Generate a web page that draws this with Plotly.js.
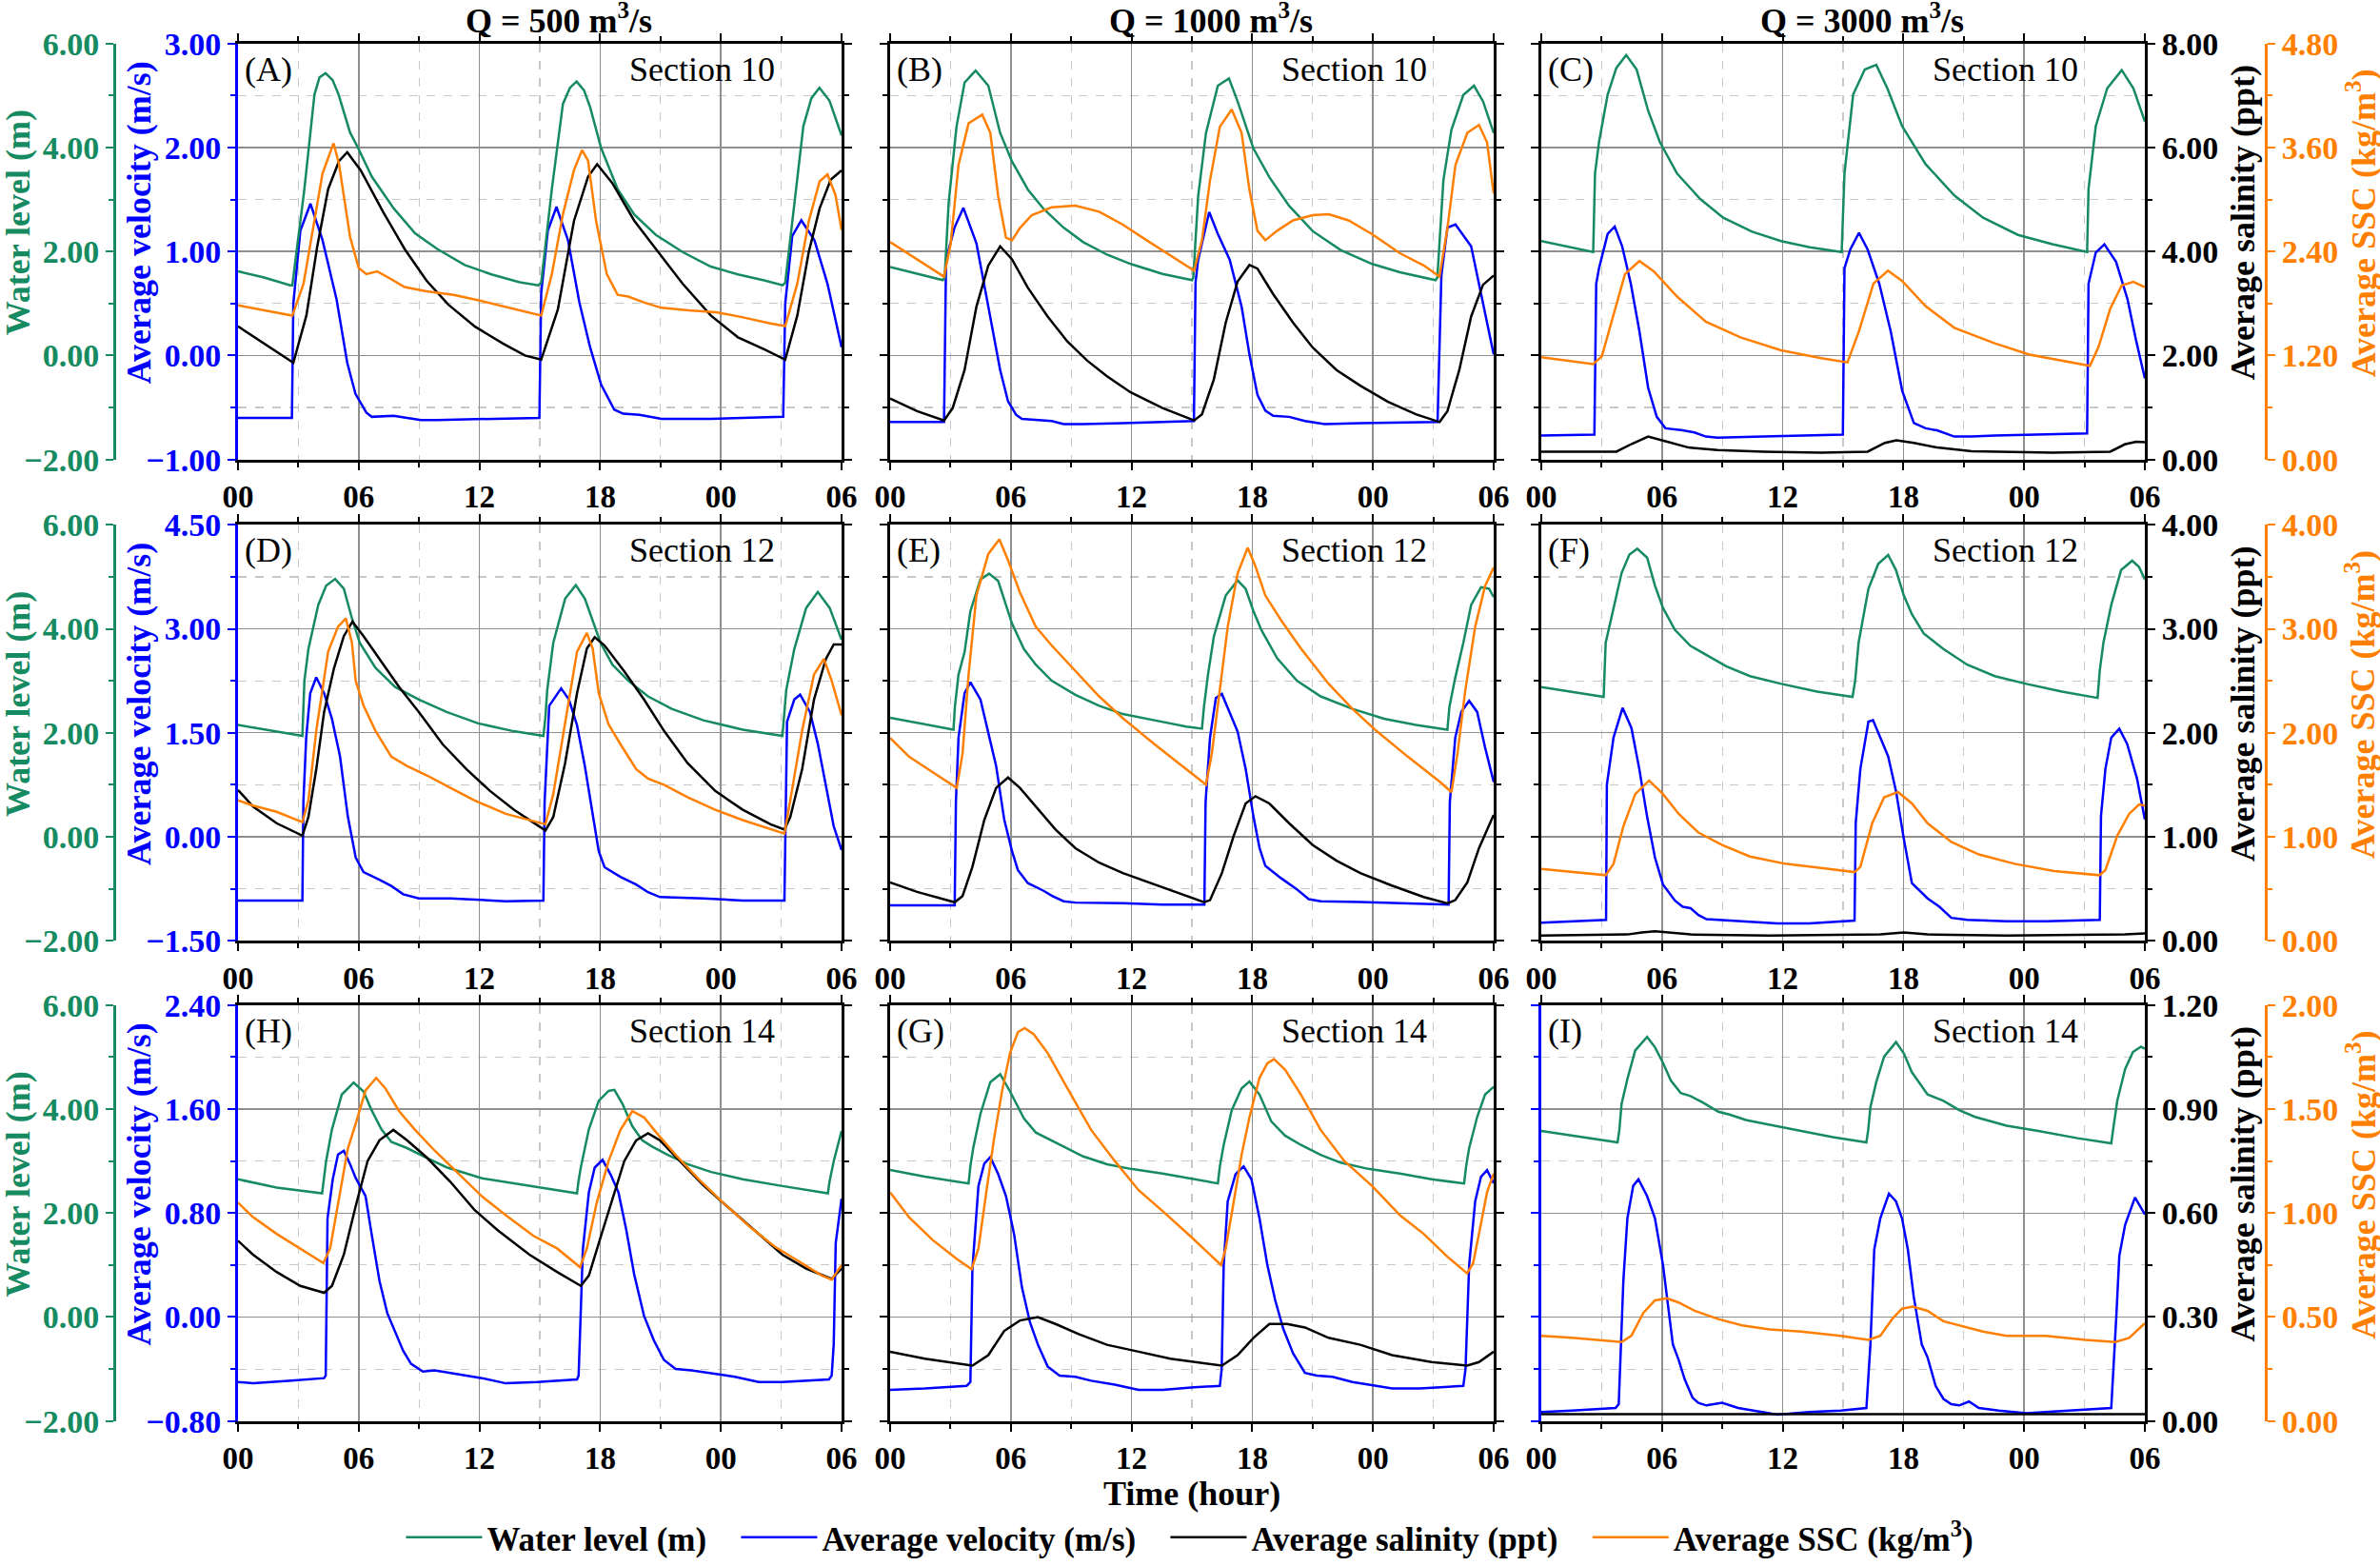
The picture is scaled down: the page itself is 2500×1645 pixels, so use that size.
<!DOCTYPE html>
<html>
<head>
<meta charset="utf-8">
<script src="https://cdn.plot.ly/plotly-3.0.1.min.js"></script>
<style>
  body { margin: 0; background: #fff; }
</style>
</head>
<body>
<div id="chart" style="width:2500px;height:1645px"></div>
<script>
// ---- labels and ranges ----
const hourTicks = [0, 6, 12, 18, 24, 30];
const hourText = ["00", "06", "12", "18", "00", "06"];
const flowTitles = ["Q = 500 m<sup>3</sup>/s", "Q = 1000 m<sup>3</sup>/s", "Q = 3000 m<sup>3</sup>/s"];
const panelTags = ["(A)", "(B)", "(C)", "(D)", "(E)", "(F)", "(H)", "(G)", "(I)"];
const sectionNames = ["Section 10", "Section 12", "Section 14"];
const seriesNames = ["Water level (m)", "Average velocity (m/s)", "Average salinity (ppt)", "Average SSC (kg/m<sup>3</sup>)"];

const levelRange = [-2, 6];
const levelStep = 2;
const velocityRanges = [[-1, 3], [-1.5, 4.5], [-0.8, 2.4]];
const velocitySteps = [1, 1.5, 0.8];
const salinityRanges = [[0, 8], [0, 4], [0, 1.2]];
const salinitySteps = [2, 1, 0.3];
const sscRanges = [[0, 4.8], [0, 4], [0, 2]];
const sscSteps = [1.2, 1, 0.5];

// ---- series: [hour, value] ----
// (A) Q=500, section 10
const wlA = [[0,1.62],[1.3,1.5],[2.6,1.35],[2.7,1.35],[3.3,3.2],[3.8,5.02],[4.05,5.35],[4.35,5.43],[4.7,5.3],[5.0,5.02],[5.57,4.29],[5.97,3.99],[6.65,3.44],[7.74,2.83],[8.8,2.35],[9.9,2.05],[11.27,1.74],[12.6,1.56],[14,1.41],[14.93,1.35],[15.07,1.4],[15.6,3.2],[16.15,4.84],[16.5,5.15],[16.83,5.27],[17.2,5.1],[17.5,4.78],[18.05,3.99],[18.87,3.2],[19.7,2.71],[20.77,2.32],[22.1,1.99],[23.5,1.71],[24.85,1.56],[26.2,1.44],[27.07,1.35],[27.2,1.4],[27.55,2.6],[28.1,4.41],[28.5,4.95],[28.9,5.15],[29.4,4.9],[30,4.23]];
const velA = [[0,-0.6],[2.68,-0.6],[2.75,0.5],[3.1,1.2],[3.6,1.46],[4.2,1.11],[4.9,0.54],[5.43,-0.07],[5.84,-0.37],[6.38,-0.55],[6.65,-0.59],[7.74,-0.58],[8.4,-0.6],[9.1,-0.62],[9.9,-0.62],[12.6,-0.61],[14.98,-0.6],[15.07,0.6],[15.4,1.2],[15.83,1.43],[16.4,1.11],[16.97,0.51],[17.5,0.08],[18.05,-0.28],[18.7,-0.52],[19.14,-0.56],[19.96,-0.57],[21.05,-0.61],[23.5,-0.61],[27.1,-0.59],[27.2,0.5],[27.55,1.15],[28.0,1.3],[28.65,1.11],[29.3,0.69],[30,0.08]];
const salA = [[0,2.56],[1.4,2.2],[2.75,1.86],[3.4,2.77],[3.94,4.1],[4.48,5.2],[5.02,5.74],[5.43,5.91],[6.1,5.56],[7.2,4.77],[8.28,4.05],[9.37,3.44],[10.45,2.98],[11.8,2.55],[13.17,2.23],[14.26,2.0],[15.07,1.92],[15.9,2.89],[16.7,4.59],[17.4,5.44],[17.85,5.68],[18.6,5.32],[19.7,4.59],[20.77,4.05],[22.1,3.38],[23.5,2.77],[24.85,2.35],[26.2,2.11],[27.2,1.92],[27.8,2.77],[28.37,3.99],[28.91,4.83],[29.46,5.38],[30,5.56]];
const sscA = [[0,1.78],[1.4,1.72],[2.7,1.66],[3.26,2.03],[3.8,2.75],[4.2,3.3],[4.75,3.65],[5.02,3.41],[5.57,2.57],[6.0,2.21],[6.38,2.14],[6.92,2.17],[7.47,2.1],[8.28,1.99],[9.37,1.94],[10.72,1.9],[12.08,1.83],[13.71,1.74],[15.07,1.66],[15.6,2.14],[16.15,2.83],[16.7,3.34],[17.1,3.57],[17.4,3.45],[17.8,2.75],[18.33,2.14],[18.87,1.9],[19.4,1.88],[20.2,1.81],[21.05,1.75],[22.4,1.72],[23.76,1.7],[25.1,1.64],[26.46,1.57],[27.2,1.54],[27.8,2.03],[28.37,2.75],[28.91,3.21],[29.3,3.29],[29.7,3.05],[30,2.65]];

// (B) Q=1000, section 10
const wlB = [[0,1.7],[2.62,1.45],[2.71,1.5],[2.91,2.94],[3.3,4.4],[3.7,5.25],[4.25,5.48],[4.88,5.19],[5.47,4.28],[6.06,3.73],[6.85,3.19],[7.63,2.82],[8.62,2.46],[9.6,2.18],[10.78,1.94],[11.96,1.76],[13.54,1.57],[15.01,1.45],[15.07,1.5],[15.31,3.06],[15.7,4.28],[16.29,5.19],[16.84,5.33],[17.27,4.89],[18.06,3.98],[18.85,3.43],[19.83,2.88],[21.01,2.39],[22.39,2.03],[23.96,1.76],[25.34,1.6],[27.11,1.45],[27.2,1.5],[27.5,3.37],[27.9,4.34],[28.49,5.01],[29.02,5.19],[29.47,4.89],[30,4.28]];
const velB = [[0,-0.64],[2.68,-0.64],[2.78,0.92],[3.2,1.23],[3.64,1.42],[4.29,1.08],[4.88,0.47],[5.47,-0.14],[5.86,-0.44],[6.26,-0.57],[6.55,-0.61],[7.24,-0.62],[8.03,-0.63],[8.62,-0.66],[9.6,-0.66],[11.57,-0.65],[13.54,-0.64],[15.1,-0.63],[15.18,0.7],[15.31,0.92],[15.86,1.38],[16.29,1.17],[16.88,0.92],[17.47,0.47],[17.86,0.01],[18.26,-0.38],[18.65,-0.53],[19.04,-0.58],[19.83,-0.59],[20.62,-0.63],[21.6,-0.66],[23.37,-0.65],[27.21,-0.64],[27.4,0.77],[27.7,1.23],[28.1,1.26],[28.88,1.05],[29.27,0.68],[29.67,0.32],[30,0.01]];
const salB = [[0,1.17],[1.34,0.93],[2.68,0.75],[3.11,0.99],[3.7,1.72],[4.29,2.94],[4.88,3.73],[5.47,4.1],[6.06,3.85],[6.85,3.3],[7.83,2.75],[8.81,2.27],[9.8,1.9],[10.78,1.6],[11.96,1.29],[13.54,0.99],[15.11,0.75],[15.5,0.87],[16.09,1.54],[16.68,2.63],[17.27,3.42],[17.86,3.74],[18.26,3.67],[19.04,3.18],[20.03,2.63],[21.01,2.15],[22.19,1.72],[23.37,1.42],[24.75,1.11],[26.13,0.87],[27.31,0.72],[27.7,0.93],[28.29,1.72],[28.88,2.75],[29.47,3.36],[30,3.54]];
const sscB = [[0,2.51],[1.34,2.31],[2.68,2.11],[3.01,2.49],[3.4,3.4],[3.9,3.88],[4.58,3.98],[4.98,3.77],[5.37,3.04],[5.76,2.56],[6.06,2.53],[6.45,2.67],[7.04,2.82],[8.03,2.91],[9.21,2.93],[10.39,2.86],[11.57,2.71],[12.75,2.53],[13.93,2.35],[15.11,2.18],[15.5,2.53],[15.9,3.22],[16.39,3.84],[16.98,4.04],[17.47,3.77],[17.86,3.11],[18.26,2.64],[18.65,2.53],[19.24,2.64],[20.03,2.76],[21.01,2.82],[21.8,2.83],[22.78,2.76],[23.96,2.6],[25.34,2.38],[26.52,2.24],[27.31,2.11],[27.7,2.67],[28.1,3.4],[28.69,3.77],[29.27,3.86],[29.67,3.66],[30,3.07]];

// (C) Q=3000, section 10
const wlC = [[0,2.2],[2.58,1.99],[2.67,3.5],[2.87,4.11],[3.3,5.02],[3.73,5.53],[4.22,5.78],[4.74,5.5],[5.31,4.71],[5.89,4.11],[6.75,3.5],[7.9,3.01],[9.04,2.65],[10.48,2.38],[11.92,2.2],[13.35,2.08],[14.93,1.99],[15.07,3.5],[15.5,5.02],[16.08,5.5],[16.65,5.59],[17.2,5.14],[17.94,4.41],[19.1,3.68],[20.53,3.08],[21.96,2.65],[23.69,2.32],[25.4,2.14],[27.13,1.99],[27.2,3.2],[27.56,4.41],[28.13,5.14],[28.85,5.49],[29.43,5.14],[30,4.5]];
const velC = [[0,-0.77],[2.64,-0.76],[2.73,0.69],[2.87,0.84],[3.3,1.17],[3.65,1.24],[4.02,1.05],[4.45,0.69],[4.88,0.23],[5.31,-0.31],[5.74,-0.59],[6.17,-0.7],[7.03,-0.72],[7.61,-0.74],[8.18,-0.78],[8.76,-0.79],[11.05,-0.78],[13.92,-0.77],[14.99,-0.76],[15.07,0.84],[15.36,1.02],[15.79,1.18],[16.22,1.02],[16.8,0.69],[17.37,0.23],[17.94,-0.34],[18.52,-0.65],[19.1,-0.7],[19.67,-0.72],[20.53,-0.78],[21.39,-0.78],[22.54,-0.77],[27.13,-0.75],[27.2,0.69],[27.56,0.99],[27.99,1.07],[28.57,0.9],[29.14,0.54],[29.57,0.14],[30,-0.22]];
const salC = [[0,0.15],[3.73,0.15],[4.5,0.3],[5.31,0.44],[6.17,0.35],[7.32,0.23],[8.76,0.18],[11.05,0.15],[13.92,0.13],[16.22,0.15],[17.08,0.32],[17.65,0.37],[18.52,0.32],[19.67,0.23],[21.39,0.16],[25.4,0.13],[28.28,0.15],[29,0.29],[29.57,0.34],[30,0.33]];
const sscC = [[0,1.18],[2.58,1.1],[3.01,1.19],[3.59,1.66],[4.16,2.14],[4.88,2.29],[5.6,2.17],[6.75,1.88],[8.18,1.59],[9.9,1.41],[11.92,1.26],[13.92,1.17],[15.22,1.12],[15.79,1.48],[16.51,2.03],[17.23,2.18],[17.94,2.06],[19.1,1.77],[20.53,1.52],[22.54,1.34],[24.26,1.21],[27.27,1.08],[27.7,1.3],[28.28,1.74],[28.85,2.01],[29.43,2.05],[30,1.99]];

// (D) Q=500, section 12
const wlD = [[0,2.15],[3.2,1.94],[3.3,3.0],[3.5,3.61],[3.99,4.46],[4.38,4.83],[4.83,4.96],[5.26,4.77],[5.65,4.22],[6.05,3.73],[6.83,3.25],[7.81,2.88],[8.99,2.64],[10.37,2.4],[11.94,2.18],[13.7,2.03],[15.18,1.94],[15.28,2.3],[15.37,2.82],[15.67,3.73],[16.26,4.58],[16.79,4.84],[17.24,4.58],[17.63,4.16],[18.02,3.73],[18.61,3.31],[19.4,3.0],[20.38,2.7],[21.56,2.46],[23.13,2.24],[25.09,2.06],[27.06,1.94],[27.15,2.3],[27.25,2.82],[27.65,3.61],[28.24,4.4],[28.82,4.71],[29.41,4.4],[30,3.79]];
const velD = [[0,-0.92],[3.2,-0.92],[3.25,0.5],[3.39,1.43],[3.59,2.07],[3.89,2.3],[4.28,2.07],[4.67,1.7],[5.07,1.16],[5.46,0.29],[5.85,-0.3],[6.24,-0.51],[7.03,-0.62],[7.62,-0.71],[8.21,-0.83],[8.99,-0.89],[10.56,-0.89],[13.31,-0.93],[15.18,-0.92],[15.24,0.5],[15.47,1.89],[16.06,2.14],[16.45,1.98],[16.85,1.61],[17.24,1.02],[17.63,0.29],[17.93,-0.21],[18.22,-0.44],[19.01,-0.58],[19.79,-0.69],[20.38,-0.8],[20.97,-0.87],[23.13,-0.89],[25.09,-0.92],[27.16,-0.92],[27.29,1.66],[27.65,1.98],[27.94,2.05],[28.43,1.8],[28.82,1.34],[29.22,0.75],[29.61,0.15],[30,-0.19]];
const salD = [[0,1.45],[0.75,1.29],[1.92,1.13],[3.2,1.01],[3.5,1.19],[3.89,1.65],[4.28,2.2],[4.77,2.62],[5.26,2.93],[5.69,3.07],[6.24,2.93],[7.03,2.71],[8.01,2.44],[8.99,2.2],[10.17,1.89],[11.35,1.65],[12.53,1.44],[13.71,1.26],[15.28,1.06],[15.67,1.19],[16.26,1.71],[16.85,2.38],[17.34,2.81],[17.73,2.92],[18.22,2.84],[19.2,2.59],[20.18,2.32],[21.17,2.02],[22.34,1.71],[23.72,1.44],[25.09,1.26],[26.47,1.12],[27.16,1.07],[27.45,1.19],[28.04,1.65],[28.63,2.32],[29.22,2.71],[29.61,2.85],[30,2.85]];
const sscD = [[0,1.35],[0.75,1.3],[1.92,1.24],[3.2,1.14],[3.5,1.35],[3.89,2.02],[4.48,2.78],[4.97,3.02],[5.36,3.1],[5.66,2.87],[5.85,2.5],[6.24,2.26],[6.83,2.02],[7.62,1.77],[8.4,1.68],[9.39,1.59],[10.56,1.47],[11.74,1.35],[13.31,1.22],[15.28,1.12],[15.67,1.41],[16.26,2.11],[16.85,2.78],[17.34,2.96],[17.63,2.81],[17.93,2.38],[18.42,2.08],[19.01,1.89],[19.79,1.65],[20.38,1.56],[21.17,1.5],[22.34,1.38],[23.72,1.26],[25.09,1.16],[26.47,1.07],[27.16,1.03],[27.45,1.35],[28.04,2.02],[28.63,2.56],[29.12,2.71],[29.51,2.5],[30,2.17]];

// (E) Q=1000, section 12
const wlE = [[0,2.29],[3.15,2.06],[3.22,2.5],[3.4,3.12],[3.7,3.55],[3.99,4.34],[4.49,4.95],[4.92,5.06],[5.37,4.92],[5.67,4.58],[6.06,4.1],[6.65,3.61],[7.24,3.31],[8.03,3.0],[9.21,2.73],[10.39,2.52],[11.57,2.36],[13.14,2.24],[14.72,2.12],[15.5,2.08],[15.6,2.5],[15.8,3.12],[16.09,3.85],[16.68,4.64],[17.27,4.93],[17.67,4.77],[18.06,4.34],[18.45,3.98],[19.24,3.43],[20.22,3.0],[21.4,2.7],[22.98,2.46],[24.55,2.27],[26.13,2.15],[27.7,2.06],[27.8,2.5],[28.09,3.06],[28.49,3.73],[28.88,4.46],[29.37,4.8],[29.77,4.77],[30,4.61]];
const velE = [[0,-0.99],[3.21,-0.99],[3.27,0.5],[3.4,1.43],[3.7,2.07],[3.99,2.23],[4.49,1.98],[4.88,1.52],[5.27,1.02],[5.67,0.25],[6.06,-0.21],[6.35,-0.48],[6.85,-0.67],[7.63,-0.78],[8.03,-0.85],[8.62,-0.93],[9.21,-0.95],[11.57,-0.96],[13.54,-0.98],[15.62,-0.98],[15.68,0.5],[15.9,1.43],[16.19,2.0],[16.49,2.06],[16.88,1.8],[17.27,1.52],[17.67,0.98],[18.06,0.29],[18.36,-0.16],[18.65,-0.42],[19.44,-0.6],[20.22,-0.76],[20.81,-0.9],[21.4,-0.93],[23.37,-0.94],[25.34,-0.96],[27.76,-0.98],[27.82,0.5],[28.09,1.43],[28.39,1.8],[28.78,1.96],[29.18,1.8],[29.57,1.29],[30,0.79]];
const salE = [[0,0.56],[1.34,0.47],[3.21,0.37],[3.6,0.43],[4.09,0.71],[4.68,1.16],[5.27,1.47],[5.86,1.57],[6.45,1.47],[7.24,1.29],[8.22,1.07],[9.21,0.89],[10.39,0.75],[11.57,0.65],[13.14,0.54],[14.72,0.43],[15.6,0.37],[15.9,0.39],[16.49,0.65],[17.08,1.01],[17.67,1.32],[18.16,1.39],[18.85,1.32],[19.83,1.13],[21.01,0.92],[22.19,0.77],[23.37,0.65],[24.94,0.53],[26.52,0.42],[27.7,0.36],[28.09,0.39],[28.69,0.56],[29.27,0.89],[30,1.21]];
const sscE = [[0,1.95],[0.94,1.77],[2.12,1.62],[3.31,1.47],[3.6,1.8],[3.9,2.56],[4.29,3.32],[4.88,3.72],[5.43,3.86],[5.86,3.66],[6.45,3.35],[7.24,3.02],[8.03,2.84],[9.21,2.59],[10.39,2.35],[11.57,2.14],[13.14,1.89],[14.72,1.65],[15.7,1.5],[15.99,1.8],[16.39,2.41],[16.78,3.02],[17.27,3.53],[17.77,3.78],[18.16,3.6],[18.65,3.32],[19.44,3.08],[20.42,2.81],[21.8,2.47],[22.98,2.23],[24.16,2.02],[25.73,1.77],[27.31,1.53],[27.9,1.43],[28.2,1.8],[28.59,2.41],[29.08,3.02],[29.57,3.41],[30,3.59]];

// (F) Q=3000, section 12
const wlF = [[0,2.88],[3.1,2.69],[3.2,3.73],[3.5,4.22],[3.99,5.07],[4.38,5.43],[4.77,5.54],[5.26,5.37],[5.65,4.83],[6.05,4.4],[6.64,3.98],[7.42,3.67],[8.21,3.49],[9.19,3.28],[10.37,3.09],[11.94,2.94],[13.71,2.79],[15.47,2.69],[15.6,3.0],[15.77,3.73],[16.26,4.77],[16.75,5.25],[17.24,5.42],[17.63,5.13],[18.02,4.64],[18.42,4.28],[19.01,3.91],[19.99,3.61],[21.17,3.31],[22.54,3.09],[24.11,2.94],[25.88,2.79],[27.65,2.67],[27.76,3.2],[27.94,3.73],[28.33,4.46],[28.82,5.13],[29.37,5.31],[29.71,5.19],[30,4.95]];
const velF = [[0,-1.24],[3.14,-1.2],[3.22,-1.2],[3.26,0.75],[3.59,1.43],[4.04,1.86],[4.48,1.57],[4.87,0.98],[5.26,0.29],[5.65,-0.3],[6.05,-0.69],[6.64,-0.92],[7.03,-1.01],[7.42,-1.03],[7.81,-1.13],[8.21,-1.19],[9.39,-1.21],[11.74,-1.25],[13.31,-1.25],[15.57,-1.21],[15.63,0.2],[15.86,0.98],[16.26,1.66],[16.49,1.68],[16.85,1.43],[17.24,1.16],[17.63,0.66],[18.02,-0.03],[18.42,-0.67],[19.2,-0.89],[19.79,-1.01],[20.38,-1.17],[21.17,-1.2],[23.13,-1.22],[25.09,-1.22],[27.65,-1.21],[27.76,-1.2],[27.82,0.3],[28.04,0.98],[28.33,1.43],[28.73,1.56],[29.12,1.34],[29.61,0.84],[30,0.25]];
const salF = [[0,0.05],[4.28,0.06],[5.0,0.08],[5.65,0.09],[7.42,0.06],[11.35,0.05],[16.85,0.06],[18.02,0.08],[19.2,0.06],[23.13,0.05],[29.02,0.06],[30,0.07]];
const sscF = [[0,0.69],[3.2,0.63],[3.59,0.74],[4.08,1.1],[4.67,1.41],[5.36,1.54],[6.05,1.41],[6.83,1.22],[7.81,1.04],[8.99,0.92],[10.37,0.81],[12.13,0.74],[13.9,0.7],[15.57,0.66],[15.86,0.71],[16.45,1.13],[17.04,1.38],[17.73,1.43],[18.42,1.32],[19.2,1.13],[20.38,0.95],[21.75,0.83],[23.52,0.74],[25.49,0.67],[27.74,0.63],[28.04,0.68],[28.63,1.01],[29.22,1.22],[29.71,1.31],[30,1.3]];

// (H) Q=500, section 14
const wlH = [[0,2.65],[1.92,2.49],[4.18,2.38],[4.24,2.6],[4.38,3.0],[4.67,3.61],[5.16,4.28],[5.75,4.51],[6.24,4.34],[6.64,3.98],[7.13,3.61],[7.62,3.37],[8.4,3.25],[9.39,3.06],[10.37,2.88],[12.13,2.67],[14.1,2.55],[16.85,2.38],[16.92,2.6],[17.04,2.88],[17.44,3.61],[17.93,4.16],[18.42,4.35],[18.71,4.37],[19.11,4.1],[19.6,3.67],[20.09,3.4],[20.58,3.28],[21.36,3.12],[22.34,2.94],[23.52,2.79],[25.09,2.65],[27.06,2.52],[29.32,2.38],[29.4,2.6],[29.61,3.0],[30,3.58]];
const velH = [[0,-0.5],[0.75,-0.51],[2.51,-0.49],[4.28,-0.47],[4.36,-0.45],[4.45,0.76],[4.71,1.06],[4.97,1.25],[5.26,1.28],[5.56,1.18],[5.85,1.07],[6.34,0.93],[6.64,0.64],[7.03,0.28],[7.42,0.03],[7.81,-0.11],[8.21,-0.26],[8.6,-0.36],[9.19,-0.42],[9.78,-0.41],[10.56,-0.43],[12.13,-0.47],[13.31,-0.51],[14.88,-0.5],[16.85,-0.48],[16.93,-0.45],[17.14,0.52],[17.44,0.96],[17.73,1.15],[18.12,1.21],[18.51,1.1],[18.91,0.96],[19.3,0.67],[19.69,0.33],[20.18,0.01],[20.67,-0.18],[21.17,-0.33],[21.75,-0.4],[22.54,-0.41],[23.72,-0.44],[24.7,-0.46],[25.88,-0.5],[27.06,-0.5],[29.37,-0.48],[29.51,-0.45],[29.61,-0.21],[29.71,0.57],[30,0.91]];
const salH = [[0,0.52],[0.75,0.48],[1.92,0.43],[3.1,0.39],[4.28,0.37],[4.67,0.39],[5.26,0.48],[5.85,0.62],[6.44,0.75],[7.03,0.81],[7.72,0.84],[8.4,0.81],[9.39,0.76],[10.56,0.69],[11.74,0.61],[12.92,0.55],[14.49,0.48],[15.86,0.43],[17.04,0.39],[17.44,0.42],[18.02,0.53],[18.61,0.64],[19.2,0.75],[19.79,0.81],[20.38,0.83],[20.97,0.81],[21.95,0.75],[23.13,0.68],[24.3,0.62],[25.68,0.55],[27.06,0.48],[28.24,0.44],[29.51,0.41],[30,0.44]];
const sscH = [[0,1.05],[0.75,0.98],[1.92,0.9],[3.1,0.83],[4.24,0.76],[4.58,0.83],[4.97,1.05],[5.46,1.31],[5.85,1.43],[6.34,1.59],[6.87,1.65],[7.32,1.6],[8.01,1.49],[8.8,1.4],[9.78,1.3],[10.96,1.19],[12.13,1.08],[13.31,0.99],[14.69,0.89],[15.86,0.83],[17.0,0.74],[17.34,0.83],[17.83,1.05],[18.42,1.25],[19.01,1.4],[19.6,1.49],[20.18,1.46],[20.77,1.39],[21.75,1.28],[22.93,1.16],[24.11,1.05],[25.49,0.93],[26.66,0.84],[27.84,0.77],[29.02,0.7],[29.51,0.68],[30,0.75]];

// (G) Q=1000, section 14
const wlG = [[0,2.83],[1.73,2.7],[3.9,2.57],[3.99,2.9],[4.13,3.25],[4.49,3.91],[4.98,4.52],[5.47,4.67],[5.96,4.34],[6.65,3.82],[7.24,3.55],[8.03,3.4],[8.81,3.25],[9.6,3.09],[10.78,2.94],[11.96,2.85],[13.54,2.76],[15.11,2.65],[16.29,2.57],[16.39,2.9],[16.58,3.31],[16.98,3.98],[17.47,4.4],[17.86,4.53],[18.36,4.28],[18.95,3.76],[19.63,3.49],[20.42,3.31],[21.4,3.12],[22.39,2.97],[23.77,2.85],[25.34,2.76],[26.91,2.65],[28.53,2.57],[28.63,2.9],[28.78,3.25],[29.18,3.85],[29.57,4.28],[30,4.43]];
const velG = [[0,-0.56],[1.73,-0.55],[3.8,-0.53],[3.99,-0.5],[4.09,0.37],[4.39,1.01],[4.68,1.18],[4.98,1.23],[5.37,1.1],[5.76,0.93],[6.16,0.64],[6.55,0.23],[6.95,-0.04],[7.34,-0.21],[7.83,-0.38],[8.42,-0.45],[9.21,-0.46],[9.99,-0.49],[11.17,-0.52],[12.35,-0.56],[13.54,-0.56],[15.11,-0.54],[16.39,-0.53],[16.48,-0.4],[16.58,0.4],[16.78,0.89],[17.17,1.1],[17.57,1.16],[17.96,1.06],[18.36,0.76],[18.75,0.4],[19.14,0.13],[19.54,-0.09],[20.03,-0.28],[20.62,-0.43],[21.21,-0.45],[21.99,-0.46],[22.98,-0.5],[24.16,-0.53],[24.95,-0.55],[26.32,-0.55],[28.49,-0.53],[28.6,-0.4],[28.78,0.4],[29.08,0.89],[29.37,1.08],[29.67,1.13],[30,1.03]];
const salG = [[0,0.2],[1.73,0.18],[4.09,0.16],[4.88,0.19],[5.67,0.26],[6.45,0.29],[7.34,0.3],[8.22,0.28],[9.4,0.25],[10.78,0.22],[12.35,0.2],[13.93,0.18],[16.49,0.16],[17.27,0.19],[18.06,0.24],[18.85,0.28],[19.73,0.28],[20.62,0.27],[21.79,0.24],[23.37,0.22],[24.95,0.19],[26.91,0.17],[28.68,0.16],[29.27,0.17],[30,0.2]];
const sscG = [[0,1.1],[0.94,0.98],[2.12,0.87],[3.3,0.78],[4.05,0.73],[4.39,0.83],[4.78,1.1],[5.17,1.36],[5.57,1.59],[5.96,1.77],[6.35,1.87],[6.69,1.89],[7.14,1.86],[7.83,1.77],[8.81,1.6],[9.99,1.4],[11.17,1.25],[12.35,1.11],[13.54,1.01],[14.91,0.89],[16.45,0.75],[16.68,0.83],[17.07,1.05],[17.47,1.28],[17.86,1.46],[18.36,1.65],[18.75,1.72],[19.08,1.74],[19.63,1.69],[20.42,1.57],[21.4,1.4],[22.58,1.25],[23.96,1.13],[25.34,0.99],[26.52,0.9],[27.7,0.79],[28.68,0.71],[28.98,0.76],[29.37,0.95],[29.67,1.1],[30,1.19]];

// (I) Q=3000, section 14
const wlI = [[0,3.58],[1.53,3.49],[3.79,3.36],[3.88,3.6],[3.99,4.1],[4.28,4.58],[4.67,5.13],[5.26,5.39],[5.65,5.19],[6.05,4.89],[6.44,4.55],[6.93,4.31],[7.42,4.25],[8.01,4.13],[8.8,3.95],[9.39,3.89],[10.17,3.79],[11.35,3.7],[12.92,3.58],[14.49,3.46],[16.16,3.36],[16.25,3.6],[16.36,4.04],[16.65,4.52],[17.04,5.01],[17.63,5.29],[18.02,5.07],[18.42,4.71],[19.2,4.28],[19.99,4.16],[20.77,3.98],[21.56,3.85],[23.13,3.68],[24.7,3.58],[26.66,3.44],[28.33,3.34],[28.42,3.6],[28.63,4.16],[29.02,4.77],[29.41,5.1],[29.81,5.2],[30,5.16]];
const velI = [[0,-0.73],[1.53,-0.72],[3.69,-0.7],[3.85,-0.67],[4.08,0.28],[4.28,0.76],[4.57,1.01],[4.83,1.06],[5.26,0.93],[5.65,0.76],[6.05,0.4],[6.24,0.16],[6.54,-0.21],[6.83,-0.33],[7.13,-0.48],[7.52,-0.62],[7.81,-0.66],[8.21,-0.68],[8.99,-0.66],[9.78,-0.7],[10.56,-0.72],[11.74,-0.75],[13.31,-0.73],[14.88,-0.72],[16.16,-0.7],[16.36,-0.21],[16.55,0.52],[16.85,0.76],[17.28,0.95],[17.63,0.89],[17.93,0.76],[18.22,0.52],[18.51,0.16],[18.91,-0.21],[19.2,-0.31],[19.6,-0.53],[19.99,-0.63],[20.38,-0.67],[20.77,-0.68],[21.26,-0.65],[21.75,-0.7],[22.74,-0.72],[24.11,-0.74],[26.08,-0.72],[28.33,-0.7],[28.59,0.03],[28.73,0.47],[29.02,0.71],[29.51,0.92],[30,0.79]];
const salI = [[0,0.02],[6,0.02],[12,0.02],[18,0.02],[24,0.02],[30,0.02]];
const sscI = [[0,0.41],[1.53,0.4],[3.99,0.38],[4.48,0.41],[5.07,0.52],[5.65,0.58],[6.24,0.59],[6.83,0.57],[7.62,0.53],[8.8,0.49],[9.98,0.46],[11.35,0.44],[12.92,0.43],[14.88,0.41],[16.26,0.39],[16.85,0.41],[17.44,0.49],[17.93,0.54],[18.46,0.55],[19.2,0.53],[19.99,0.48],[20.77,0.46],[21.95,0.43],[23.13,0.41],[25.09,0.41],[27.06,0.39],[28.53,0.38],[29.22,0.4],[30,0.47]];

const panels = [
  [wlA, velA, salA, sscA], [wlB, velB, salB, sscB], [wlC, velC, salC, sscC],
  [wlD, velD, salD, sscD], [wlE, velE, salE, sscE], [wlF, velF, salF, sscF],
  [wlH, velH, salH, sscH], [wlG, velG, salG, sscG], [wlI, velI, salI, sscI],
];

// ---- styling / geometry ----
const GREEN = "#168a60", BLUE = "#0000ff", BLACK = "#000000", ORANGE = "#ff7f00";
const colors = [GREEN, BLUE, BLACK, ORANGE];
const W = 2500, H = 1645;
const colPx = [[250, 884], [935, 1569], [1619, 2253]];
const rowPx = [[46, 485], [554, 993], [1061, 1500]];
const FONT = "Liberation Serif";
const GRID = "#8f8f8f", MINORGRID = "#c8c8c8";
const PAD = "\u00a0\u00a0\u00a0"; // keeps legend entries apart like the original

const axName = (n) => (n === 1 ? "" : String(n));

function tickStyle(color, step, showLabels) {
  return {
    showline: true, linecolor: color, linewidth: 3,
    ticks: "outside", ticklen: 8, tickwidth: 2, tickcolor: color,
    showticklabels: showLabels,
    tickfont: { family: FONT, size: 34, weight: "bold", color: color },
    tickformat: ".2f",
    minor: { dtick: step / 2, ticks: "outside", ticklen: 5, tickwidth: 2, tickcolor: color, showgrid: false },
  };
}

const layout = {
  width: W, height: H,
  margin: { l: 0, r: 0, t: 0, b: 0 },
  paper_bgcolor: "#ffffff",
  plot_bgcolor: "rgba(0,0,0,0)",
  font: { family: FONT, color: BLACK },
  showlegend: true,
  legend: {
    orientation: "h", x: 0.5, xanchor: "center", y: 1 - 1623 / H, yanchor: "middle",
    font: { family: FONT, size: 35, weight: "bold" }, itemwidth: 80,
    bgcolor: "rgba(0,0,0,0)",
  },
  annotations: [],
};

const traces = [];

panels.forEach((series, p) => {
  const r = Math.floor(p / 3), c = p % 3;
  const xn = p + 1;
  const [idWl, idVel, idSal, idSsc] = [1, 2, 3, 4].map((k) => 4 * p + k);
  const domX = [colPx[c][0] / W, colPx[c][1] / W];
  const domY = [1 - rowPx[r][1] / H, 1 - rowPx[r][0] / H];
  const velRef = "y" + axName(idVel);

  // x axis
  layout["xaxis" + axName(xn)] = {
    domain: domX, anchor: velRef, range: [0, 30],
    tickmode: "array", tickvals: hourTicks, ticktext: hourText,
    showline: true, mirror: "ticks", linecolor: BLACK, linewidth: 3,
    ticks: "outside", ticklen: 8, tickwidth: 2, tickcolor: BLACK,
    tickfont: { family: FONT, size: 33, weight: "bold", color: BLACK },
    showgrid: true, gridcolor: GRID, gridwidth: 1.5, zeroline: false,
    minor: { dtick: 3, tick0: 0, ticks: "outside", ticklen: 5, tickwidth: 2, tickcolor: BLACK,
             showgrid: true, gridcolor: MINORGRID, griddash: "dash", gridwidth: 1.2 },
  };

  // velocity axis (main, left edge)
  const velColor = (c === 0 || p === 8) ? BLUE : BLACK;
  const velAxis = Object.assign(tickStyle(velColor, velocitySteps[r], c === 0), {
    domain: domY, anchor: "x" + axName(xn), side: "left",
    range: velocityRanges[r], tick0: velocityRanges[r][0], dtick: velocitySteps[r],
    zeroline: false, showgrid: true, gridcolor: GRID, gridwidth: 1.5,
  });
  velAxis.tickfont.color = BLUE;
  velAxis.minor.showgrid = true;
  velAxis.minor.gridcolor = MINORGRID;
  velAxis.minor.griddash = "dash";
  velAxis.minor.gridwidth = 1.2;
  layout["yaxis" + axName(idVel)] = velAxis;

  // water level axis (free, far left on first column)
  if (c === 0) {
    layout["yaxis" + axName(idWl)] = Object.assign(tickStyle(GREEN, levelStep, true), {
      overlaying: velRef, anchor: "free", position: 120 / W, side: "left",
      range: levelRange, tick0: levelRange[0], dtick: levelStep, zeroline: false, showgrid: false,
    });
  } else {
    layout["yaxis" + axName(idWl)] = { overlaying: velRef, range: levelRange, visible: false };
  }

  // salinity axis (right edge of every panel)
  layout["yaxis" + axName(idSal)] = Object.assign(tickStyle(BLACK, salinitySteps[r], c === 2), {
    overlaying: velRef, anchor: "x" + axName(xn), side: "right",
    range: salinityRanges[r], tick0: 0, dtick: salinitySteps[r], zeroline: false, showgrid: false,
  });

  // SSC axis (free, far right on last column)
  if (c === 2) {
    layout["yaxis" + axName(idSsc)] = Object.assign(tickStyle(ORANGE, sscSteps[r], true), {
      overlaying: velRef, anchor: "free", position: 2380 / W, side: "right",
      range: sscRanges[r], tick0: 0, dtick: sscSteps[r], zeroline: false, showgrid: false,
    });
  } else {
    layout["yaxis" + axName(idSsc)] = { overlaying: velRef, range: sscRanges[r], visible: false };
  }

  // traces
  [idWl, idVel, idSal, idSsc].forEach((id, k) => {
    const pts = series[k];
    traces.push({
      type: "scatter", mode: "lines",
      x: pts.map((q) => q[0]), y: pts.map((q) => q[1]),
      xaxis: "x" + axName(xn), yaxis: "y" + axName(id),
      name: seriesNames[k] + (k < 3 ? PAD : ""), showlegend: p === 0,
      line: { color: colors[k], width: 2.5 },
      hoverinfo: "skip",
    });
  });

  // panel tag and section name
  const topY = 1 - (rowPx[r][0] + 27) / H;
  layout.annotations.push({
    xref: "paper", yref: "paper", x: (colPx[c][0] + 5) / W, y: topY,
    xanchor: "left", yanchor: "middle", showarrow: false,
    text: panelTags[p], font: { family: FONT, size: 36, color: BLACK },
  });
  layout.annotations.push({
    xref: "paper", yref: "paper", x: (colPx[c][1] - 68) / W, y: topY,
    xanchor: "right", yanchor: "middle", showarrow: false,
    text: sectionNames[r], font: { family: FONT, size: 36, color: BLACK },
  });
});

// axis titles as rotated annotations
rowPx.forEach((rp) => {
  const yc = 1 - ((rp[0] + rp[1]) / 2 - 30) / H;
  const defs = [
    [19, seriesNames[0], GREEN], [146, seriesNames[1], BLUE],
    [2356, seriesNames[2], BLACK], [2480, seriesNames[3], ORANGE],
  ];
  defs.forEach(([xp, txt, col]) => {
    layout.annotations.push({
      xref: "paper", yref: "paper", x: xp / W, y: yc,
      xanchor: "center", yanchor: "middle", textangle: -90, showarrow: false,
      text: txt, font: { family: FONT, size: 36, weight: "bold", color: col },
    });
  });
});

// column titles
flowTitles.forEach((t, c) => {
  layout.annotations.push({
    xref: "paper", yref: "paper", x: ((colPx[c][0] + colPx[c][1]) / 2 + 20) / W, y: 1 - 20 / H,
    xanchor: "center", yanchor: "middle", showarrow: false,
    text: t, font: { family: FONT, size: 36, weight: "bold", color: BLACK },
  });
});

// shared x title
layout.annotations.push({
  xref: "paper", yref: "paper", x: 1252 / W, y: 1 - 1577 / H,
  xanchor: "center", yanchor: "middle", showarrow: false,
  text: "Time (hour)", font: { family: FONT, size: 36, weight: "bold", color: BLACK },
});

Plotly.newPlot("chart", traces, layout, { displayModeBar: false, staticPlot: true });
</script>
</body>
</html>
